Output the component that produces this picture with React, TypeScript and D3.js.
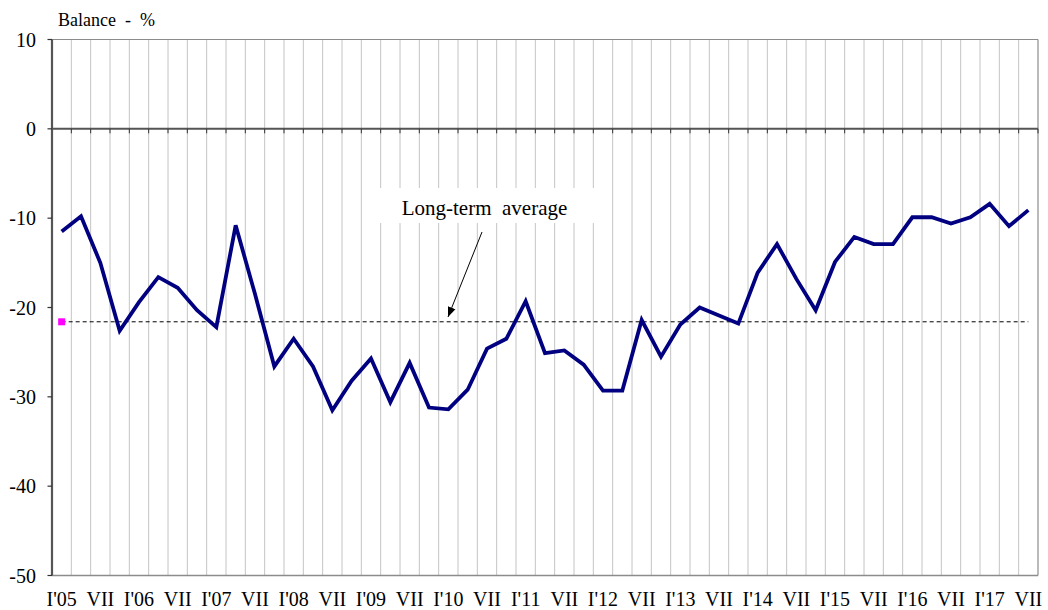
import React from 'react';
import * as d3 from 'd3';

const categories: string[] = [
  "I'05", "IV'05", "VII'05", "X'05", "I'06", "IV'06", "VII'06", "X'06",
  "I'07", "IV'07", "VII'07", "X'07", "I'08", "IV'08", "VII'08", "X'08",
  "I'09", "IV'09", "VII'09", "X'09", "I'10", "IV'10", "VII'10", "X'10",
  "I'11", "IV'11", "VII'11", "X'11", "I'12", "IV'12", "VII'12", "X'12",
  "I'13", "IV'13", "VII'13", "X'13", "I'14", "IV'14", "VII'14", "X'14",
  "I'15", "IV'15", "VII'15", "X'15", "I'16", "IV'16", "VII'16", "X'16",
  "I'17", "IV'17", "VII'17",
];

const balance: number[] = [
  -11.5, -9.8, -15.0, -22.6, -19.4, -16.6, -17.8, -20.3,
  -22.2, -10.8, -18.5, -26.6, -23.5, -26.6, -31.5, -28.2,
  -25.7, -30.6, -26.2, -31.2, -31.4, -29.2, -24.6, -23.5,
  -19.3, -25.1, -24.8, -26.4, -29.3, -29.3, -21.4, -25.5,
  -21.9, -20.0, -20.9, -21.8, -16.1, -12.9, -16.8, -20.3,
  -14.9, -12.1, -12.9, -12.9, -9.9, -9.9, -10.6, -9.9,
  -8.4, -10.9, -9.1,
];

const longTermAverage = -21.6;

const tickLabels: string[] = [
  "I'05", "VII", "I'06", "VII", "I'07", "VII", "I'08", "VII", "I'09", "VII",
  "I'10", "VII", "I'11", "VII", "I'12", "VII", "I'13", "VII", "I'14", "VII",
  "I'15", "VII", "I'16", "VII", "I'17", "VII",
];

const yTicks: number[] = [10, 0, -10, -20, -30, -40, -50];

const W = 1048;
const H = 610;
const left = 52;
const right = 1038;
const top = 39.5;
const bottom = 575.5;
const serif = '"Liberation Serif", "DejaVu Serif", serif';

export default function App() {
  const x = d3.scaleBand<number>().domain(d3.range(categories.length)).range([left, right]).padding(0);
  const bw = x.bandwidth();
  const cx = (i: number) => (x(i) as number) + bw / 2;
  const y = d3.scaleLinear().domain([-50, 10]).range([bottom, top]);

  const line = d3.line<number>().x((_, i) => cx(i)).y((d) => y(d));
  const boundaries = d3.range(1, categories.length);
  const allBounds = d3.range(0, categories.length + 1);
  const txt = (size: number): React.CSSProperties => ({ fontFamily: serif, fontSize: size + 'px', whiteSpace: 'pre' });

  return (
    <>
      <style>{'body{margin:0}'}</style>
      <svg width={W} height={H} style={{ display: 'block', background: '#fff' }}>
        <defs>
          <marker id="ah" viewBox="0 0 10 10" refX="10" refY="5" markerWidth="10" markerHeight="10" markerUnits="userSpaceOnUse" orient="auto">
            <path d="M0,1 L10,5 L0,9 z" fill="#000" />
          </marker>
        </defs>
        {boundaries.map((k) => {
          const gx = left + k * bw;
          return <line key={'g' + k} x1={gx} x2={gx} y1={top} y2={bottom} stroke="#c4c4c4" strokeWidth={1} />;
        })}
        <line x1={left} x2={right} y1={top} y2={top} stroke="#8c8c8c" strokeWidth={1.2} />
        <line x1={right} x2={right} y1={top} y2={bottom} stroke="#8c8c8c" strokeWidth={1.2} />
        <line x1={left} x2={right} y1={bottom} y2={bottom} stroke="#8c8c8c" strokeWidth={1.5} />

        <rect x={368} y={188} width={239} height={35} fill="#fff" />
        <text x={484.5} y={215} textAnchor="middle" fill="#000" style={txt(21)}>
          {'Long-term  average'}
        </text>
        <line x1={482} y1={232} x2={448} y2={317} stroke="#000" strokeWidth={1} markerEnd="url(#ah)" />

        <line x1={left} x2={right} y1={y(0)} y2={y(0)} stroke="#555" strokeWidth={2} />
        {allBounds.map((k) => {
          const gx = left + k * bw;
          return <line key={'t' + k} x1={gx} x2={gx} y1={y(0)} y2={y(0) + 4.5} stroke="#333" strokeWidth={1} />;
        })}

        <line x1={left} x2={left} y1={top} y2={bottom} stroke="#555" strokeWidth={2.2} />
        {yTicks.map((t) => (
          <g key={'y' + t}>
            <line x1={left - 4.5} x2={left} y1={y(t)} y2={y(t)} stroke="#333" strokeWidth={1.2} />
            <text x={36} y={y(t)} dy="0.35em" textAnchor="end" fill="#000" style={txt(20)}>
              {t}
            </text>
          </g>
        ))}

        <line x1={cx(0)} x2={cx(categories.length - 1)} y1={y(longTermAverage)} y2={y(longTermAverage)} stroke="#000" strokeWidth={1} strokeDasharray="4,3" />
        <rect x={cx(0) - 3.5} y={y(longTermAverage) - 3.5} width={7} height={7} fill="#ff00ff" />

        <path d={line(balance) || ''} fill="none" stroke="#000080" strokeWidth={3.8} strokeLinejoin="miter" />

        {tickLabels.map((lab, j) => (
          <text key={'x' + j} x={cx(j * 2)} y={606} textAnchor="middle" fill="#000" style={txt(20)}>
            {lab}
          </text>
        ))}

        <text x={58} y={26} fill="#000" style={txt(18)}>
          {'Balance  -  %'}
        </text>
      </svg>
    </>
  );
}
